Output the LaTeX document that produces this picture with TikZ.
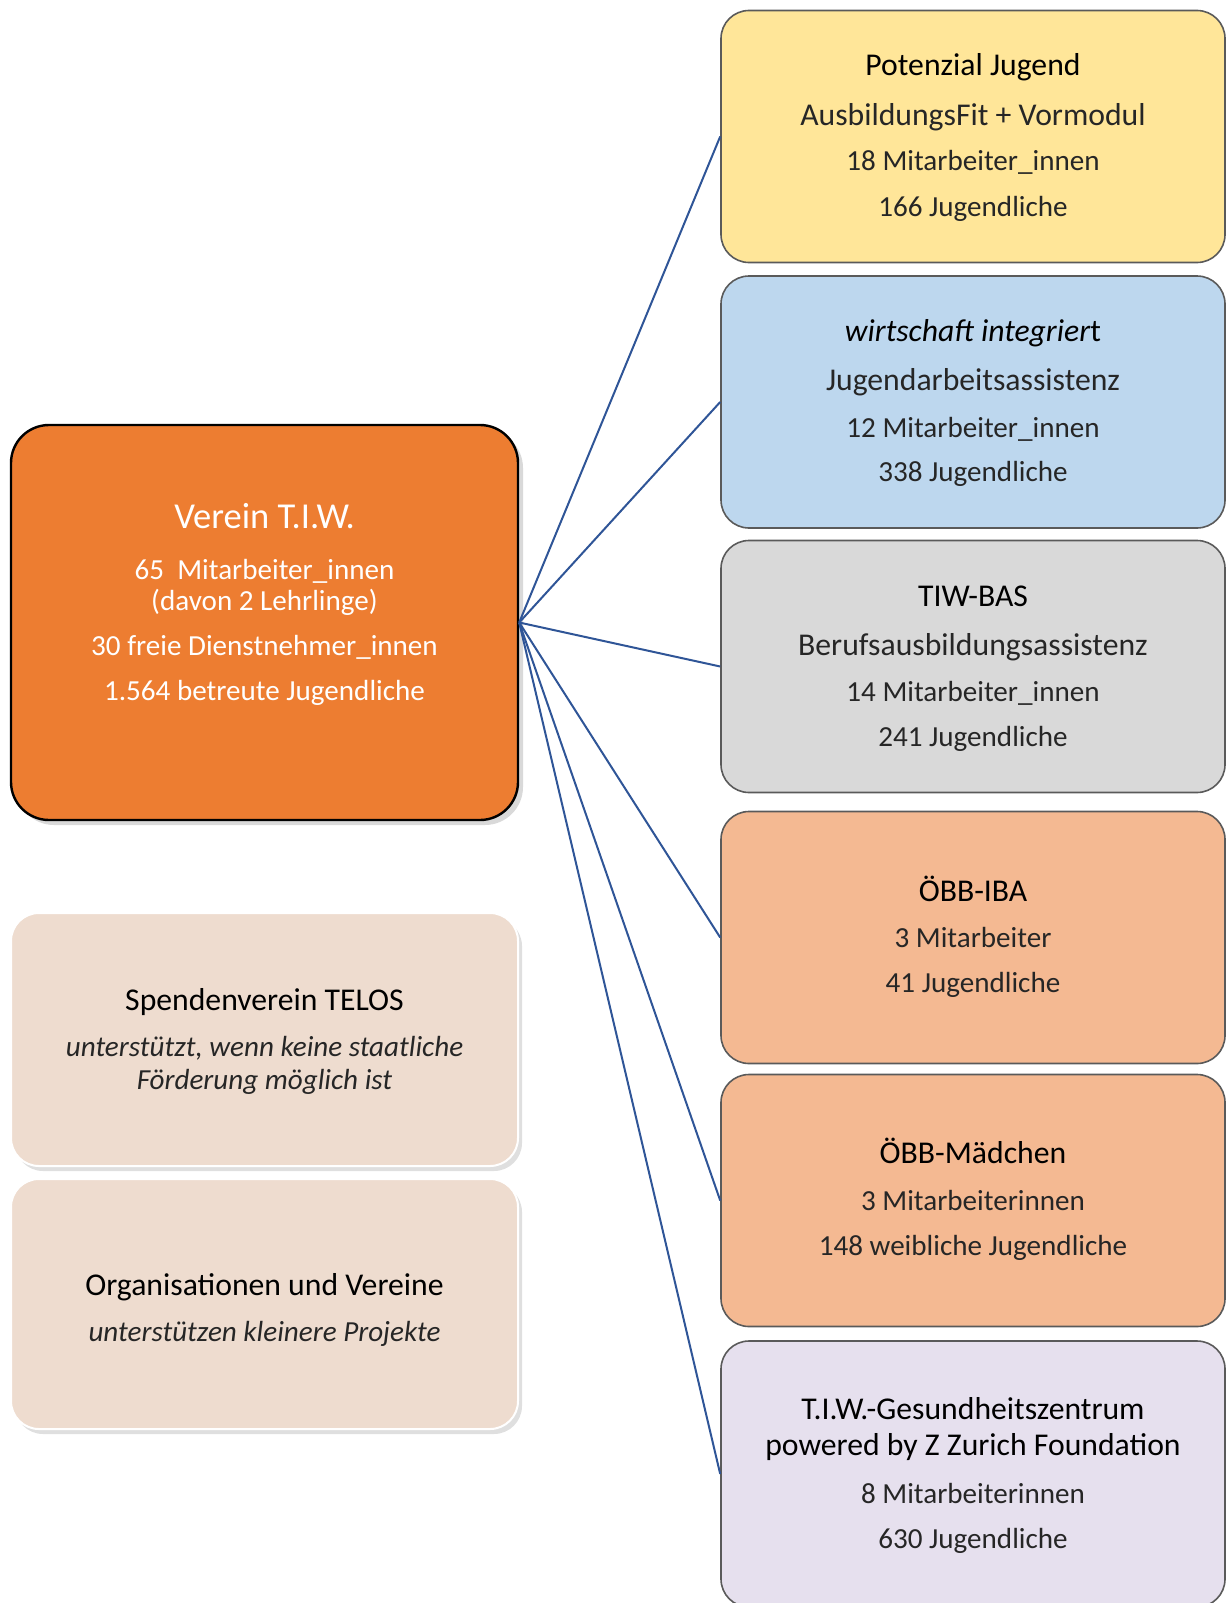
\documentclass[tikz,border=0pt]{standalone}
\usepackage{fontspec}
\setmainfont{Carlito}
\usetikzlibrary{shadows}
\definecolor{cOrange}{HTML}{ED7D31}
\definecolor{cYellow}{HTML}{FFE699}
\definecolor{cBlue}{HTML}{BDD7EE}
\definecolor{cGray}{HTML}{D9D9D9}
\definecolor{cSalmon}{HTML}{F4B992}
\definecolor{cLav}{HTML}{E6E0EE}
\definecolor{cBeige}{HTML}{EEDCCF}
\definecolor{cBorder}{HTML}{5A5A5A}
\definecolor{cLink}{HTML}{2F5597}
\definecolor{cText}{HTML}{262626}
\begin{document}
\begin{tikzpicture}[x=1pt,y=-1pt,
  rbox/.style={rectangle, rounded corners=28pt, draw=cBorder, line width=1.6pt,
    minimum width=504pt, minimum height=252pt, inner sep=0pt},
  lbox/.style={rectangle, rounded corners=28pt, draw=white, line width=2pt, fill=cBeige,
    minimum width=507pt, inner sep=0pt,
    drop shadow={shadow xshift=4pt, shadow yshift=-5pt, opacity=0.25}},
  ttl/.style={font=\fontsize{31.7}{36}\selectfont, text=black, inner sep=0pt, anchor=base},
  sub/.style={font=\fontsize{29.1}{33}\selectfont, text=cText, inner sep=0pt, anchor=base},
  link/.style={draw=cLink, line width=2pt}]
\useasboundingbox (0,0) rectangle (1226,1603);
\clip (0,0) rectangle (1226,1603);

% main box
\node[rectangle, rounded corners=38pt, draw=black, line width=2.4pt, fill=cOrange,
  minimum width=507pt, minimum height=395pt, inner sep=0pt,
  drop shadow={shadow xshift=5pt, shadow yshift=-5pt, opacity=0.3}] (main) at (264.5,622.5) {};
\node[ttl, font=\fontsize{36.5}{40}\selectfont, text=white] (mt) at (264.5,528.3) {Verein T.I.W.};
\node[sub, text=white] (m1) at (264.5,579) {65\ \ Mitarbeiter\_innen};
\node[sub, text=white] (m1b) at (264.5,610) {(davon 2 Lehrlinge)};
\node[sub, text=white] (m2) at (264.5,655.7) {30 freie Dienstnehmer\_innen};
\node[sub, text=white] (m3) at (264.5,700.7) {1.564 betreute Jugendliche};

% right boxes
\node[rbox, fill=cYellow] (b1) at (973,136.5) {};
\node[ttl] (b1t) at (973,75.7) {Potenzial Jugend};
\node[ttl, text=cText] (b1s) at (973,125) {AusbildungsFit + Vormodul};
\node[sub] (b1a) at (973,170.7) {18 Mitarbeiter\_innen};
\node[sub] (b1b) at (973,216.7) {166 Jugendliche};

\node[rbox, fill=cBlue] (b2) at (973,402) {};
\node[ttl] (b2t) at (973,341.7) {\textit{wirtschaft integrier}t};
\node[ttl, text=cText] (b2s) at (973,390) {Jugendarbeitsassistenz};
\node[sub] (b2a) at (973,437.3) {12 Mitarbeiter\_innen};
\node[sub] (b2b) at (973,481.7) {338 Jugendliche};

\node[rbox, fill=cGray] (b3) at (973,666.5) {};
\node[ttl] (b3t) at (973,606.4) {TIW-BAS};
\node[ttl, text=cText] (b3s) at (973,655) {Berufsausbildungsassistenz};
\node[sub] (b3a) at (973,701.7) {14 Mitarbeiter\_innen};
\node[sub] (b3b) at (973,746) {241 Jugendliche};

\node[rbox, fill=cSalmon] (b4) at (973,937.5) {};
\node[ttl] (b4t) at (973,901.5) {ÖBB-IBA};
\node[sub] (b4a) at (973,947.7) {3 Mitarbeiter};
\node[sub] (b4b) at (973,992.3) {41 Jugendliche};

\node[rbox, fill=cSalmon] (b5) at (973,1200.5) {};
\node[ttl] (b5t) at (973,1163.3) {ÖBB-Mädchen};
\node[sub] (b5a) at (973,1210) {3 Mitarbeiterinnen};
\node[sub] (b5b) at (973,1255) {148 weibliche Jugendliche};

\node[rbox, fill=cLav, minimum height=266pt] (b6) at (973,1474) {};
\node[ttl] (b6t) at (973,1419.3) {T.I.W.-Gesundheitszentrum};
\node[ttl] (b6u) at (973,1455) {powered by Z Zurich Foundation};
\node[sub] (b6a) at (973,1503.3) {8 Mitarbeiterinnen};
\node[sub] (b6b) at (973,1548.3) {630 Jugendliche};

% left support boxes
\node[lbox, minimum height=253pt] (s1) at (264.5,1039.5) {};
\node[ttl] (s1t) at (264.5,1010.7) {Spendenverein TELOS};
\node[sub, font=\fontsize{29.1}{33}\selectfont\itshape] (s1a) at (264.5,1056) {unterstützt, wenn keine staatliche};
\node[sub, font=\fontsize{29.1}{33}\selectfont\itshape] (s1b) at (264.5,1089) {Förderung möglich ist};

\node[lbox, minimum height=250pt] (s2) at (264.5,1304) {};
\node[ttl] (s2t) at (264.5,1295) {Organisationen und Vereine};
\node[sub, font=\fontsize{29.1}{33}\selectfont\itshape] (s2a) at (264.5,1341.7) {unterstützen kleinere Projekte};

% connectors
\foreach \b in {b1,b2,b3,b4,b5,b6}
  \draw[link] (main.east) -- (\b.west);
\end{tikzpicture}
\end{document}
